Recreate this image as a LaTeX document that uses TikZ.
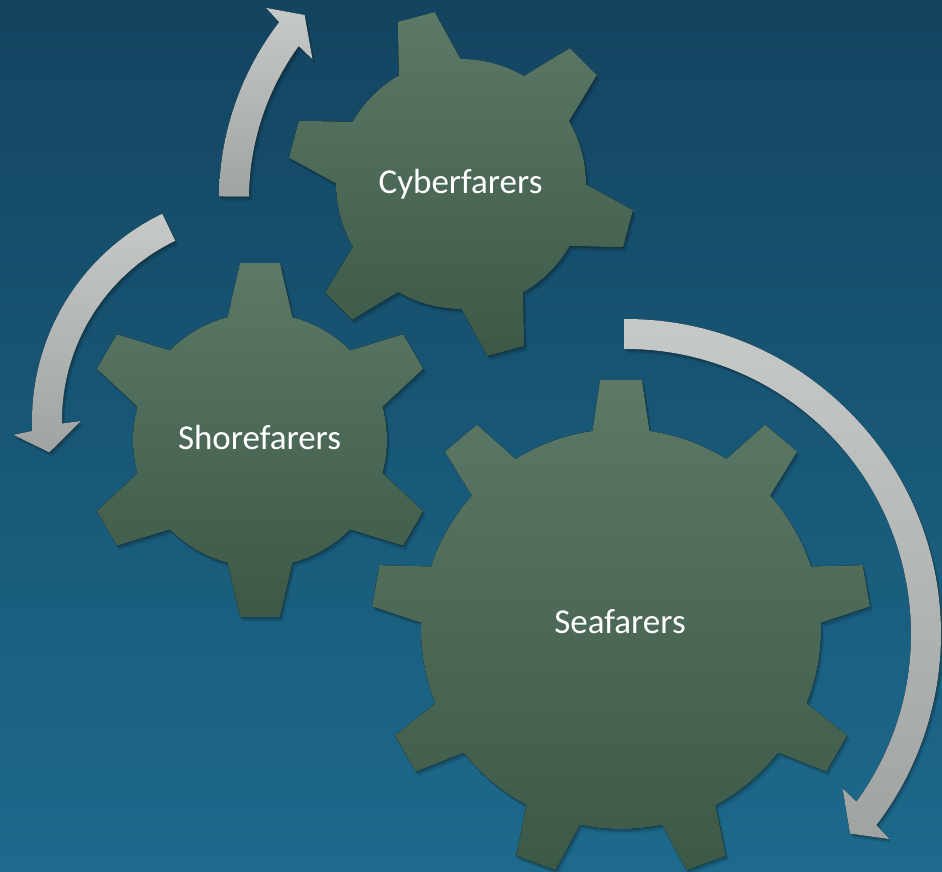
\documentclass[tikz,border=0pt]{standalone}
\usepackage{fontspec}
\setmainfont{Carlito}
\usetikzlibrary{shadows}

\definecolor{seatop}{HTML}{134460}
\definecolor{seabottom}{HTML}{1D6A8C}
\definecolor{gearlight}{HTML}{5C7968}
\definecolor{geardark}{HTML}{3C5846}
\definecolor{bandlight}{HTML}{C5C9C7}
\definecolor{banddark}{HTML}{9FA4A2}

% centre, teeth, first tooth angle, root radius, tip radius, half base angle, half top angle
\newcommand{\gearwheel}[7]{%
  \pgfmathsetmacro{\gstep}{360/#2}
  \begin{scope}[shift={(#1)}]
    \fill[gear] ({#3-#6}:#4)
      \foreach \k in {1,...,#2}{
        -- ({#3+(\k-1)*\gstep-#7}:#5)
        -- ({#3+(\k-1)*\gstep+#7}:#5)
        -- ({#3+(\k-1)*\gstep+#6}:#4)
        arc[start angle={#3+(\k-1)*\gstep+#6}, delta angle={\gstep-2*#6}, radius=#4]
      } -- cycle;
  \end{scope}}

% centre, radius, tail angle, head base angle, tip angle, head tilt
\newcommand{\bentarrow}[6]{%
  \begin{scope}[shift={(#1)}]
    \fill[arrowband] ({#3}:{#2+15})
      arc[start angle=#3, end angle={#4+0.55*#6}, radius={#2+15}]
      -- ({#4+#6}:{#2+34}) -- ({#5}:#2) -- ({#4-#6}:{#2-34})
      -- ({#4-0.55*#6}:{#2-15})
      arc[start angle={#4-0.55*#6}, end angle=#3, radius={#2-15}] -- cycle;
  \end{scope}}

\begin{document}
\begin{tikzpicture}[
    x = 1pt,
    y = 1pt,
    softshadow/.style = {
              drop shadow={shadow xshift=1pt, shadow yshift=-1.5pt, opacity=0.12, fill=black},
              drop shadow={shadow xshift=2pt, shadow yshift=-3pt, opacity=0.1, fill=black},
              drop shadow={shadow xshift=3pt, shadow yshift=-4.5pt, opacity=0.08, fill=black}},
    gear/.style = {top color=gearlight, bottom color=geardark, softshadow},
    arrowband/.style = {top color=bandlight, bottom color=banddark, softshadow},
    gearlabel/.style = {text=white, anchor=base, inner sep=0pt,
              font=\fontsize{35}{42}\selectfont},
    ]

\useasboundingbox (0,0) rectangle (942,871);
\shade[top color=seatop, bottom color=seabottom] (0,0) rectangle (942,871);

\coordinate (cyber) at (461,687);
\coordinate (shore) at (260,431);
\coordinate (sea) at (621,242);

\coordinate (upturn) at (509,672);
\coordinate (leftturn) at (262,450);
\coordinate (rightturn) at (626,237);

\bentarrow{upturn}{275}{179.5}{143.2}{138}{-1.4}
\bentarrow{leftturn}{215}{115.7}{181.6}{188.4}{1.6}
\bentarrow{rightturn}{300}{90.3}{-36.7}{-41.7}{-1.2}

\gearwheel{cyber}{6}{105}{125}{174}{14.8}{6.3}
\gearwheel{shore}{6}{90}{127}{178}{14.8}{6.45}
\gearwheel{sea}{9}{90}{200}{250}{8.2}{4.8}

\node[gearlabel] (cyberlabel) at (460.5,677) {Cyberfarers};
\node[gearlabel] (shorelabel) at (259.5,421) {Shorefarers};
\node[gearlabel] (sealabel) at (620,238) {Seafarers};

\end{tikzpicture}
\end{document}
